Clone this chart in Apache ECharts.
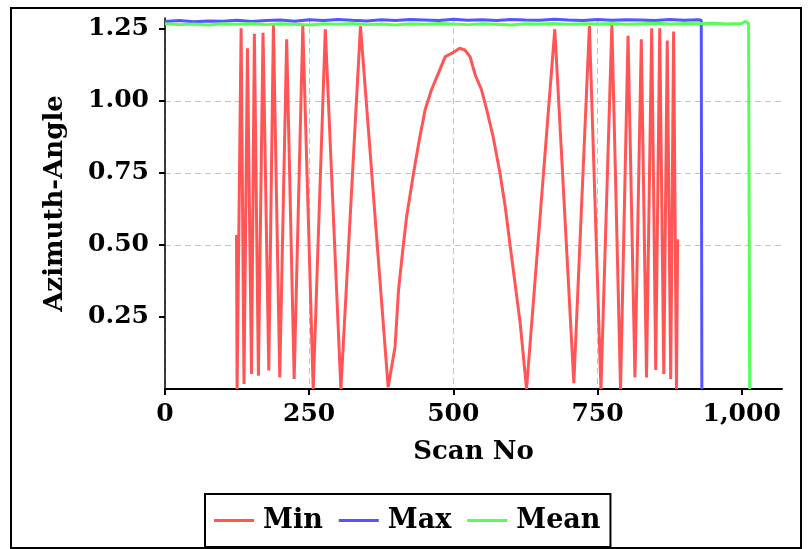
<!DOCTYPE html>
<html>
<head>
<meta charset="utf-8">
<script src="https://cdn.jsdelivr.net/npm/echarts@6/dist/echarts.min.js"></script>
<style>
  html, body { margin: 0; padding: 0; background: #fff; }
  #frame {
    position: absolute; left: 10px; top: 7px;
    width: 788px; height: 538px;
    border: 2px solid #000;
  }
  #main { position: absolute; left: 0; top: 0; width: 812px; height: 549px; }
</style>
</head>
<body>
<div id="frame"></div>
<div id="main"></div>
<script>
// Min series (red)
const minScan = [124, 125, 132, 137, 143, 150, 155, 162, 170, 180,
  188, 199, 211, 224, 239, 257, 278, 305, 339, 387,
  399, 405, 413, 419, 431, 441, 451, 462, 474, 486,
  497, 505, 511, 520, 529, 538, 549, 558, 569, 581,
  590, 598, 607, 616, 627, 676, 709, 736, 756, 775,
  790, 803, 815, 826, 835, 844, 851, 858, 865, 871,
  877, 882, 887, 889];
const minValue = [0.535, 0, 1.252, 0.017, 1.183, 0.052, 1.233, 0.046, 1.237, 0.064,
  1.264, 0.040, 1.214, 0.035, 1.260, 0, 1.249, 0, 1.260, 0.006,
  0.147, 0.344, 0.494, 0.598, 0.749, 0.865, 0.969, 1.038, 1.096, 1.154,
  1.165, 1.175, 1.183, 1.177, 1.154, 1.090, 1.038, 0.969, 0.876, 0.749,
  0.633, 0.506, 0.367, 0.228, 0, 1.249, 0.020, 1.260, 0, 1.264,
  0, 1.226, 0.040, 1.214, 0.040, 1.252, 0.066, 1.252, 0.052, 1.210,
  0.035, 1.241, 0, 0.52];

// Max series (blue)
const maxScan = [0, 25, 50, 75, 100, 125, 150, 175, 200, 225,
  250, 275, 300, 325, 350, 375, 400, 425, 450, 475,
  500, 525, 550, 575, 600, 625, 650, 675, 700, 725,
  750, 775, 800, 825, 850, 875, 900, 925, 930, 931];
const maxValue = [1.276, 1.279, 1.275, 1.278, 1.277, 1.280, 1.276, 1.279, 1.281, 1.277,
  1.282, 1.279, 1.283, 1.280, 1.278, 1.282, 1.279, 1.283, 1.281, 1.279,
  1.284, 1.280, 1.282, 1.279, 1.283, 1.281, 1.280, 1.284, 1.281, 1.279,
  1.283, 1.280, 1.282, 1.281, 1.279, 1.283, 1.280, 1.282, 1.280, 0];

// Mean series (green)
const meanScan = [0, 25, 50, 75, 100, 125, 150, 175, 200, 225,
  250, 275, 300, 325, 350, 375, 400, 425, 450, 475,
  500, 525, 550, 575, 600, 625, 650, 675, 700, 725,
  750, 775, 800, 825, 850, 875, 900, 925, 950, 975,
  1000, 1006, 1012, 1013, 1014];
const meanValue = [1.268, 1.265, 1.267, 1.264, 1.268, 1.266, 1.269, 1.265, 1.268, 1.266,
  1.264, 1.268, 1.266, 1.269, 1.265, 1.267, 1.264, 1.268, 1.266, 1.269,
  1.267, 1.265, 1.268, 1.266, 1.264, 1.268, 1.267, 1.269, 1.266, 1.268,
  1.267, 1.269, 1.266, 1.268, 1.270, 1.267, 1.269, 1.268, 1.270, 1.267,
  1.269, 1.276, 1.270, 1.272, 0];

const xTicks = [0, 250, 500, 750, 1000];
const yTicks = [0.25, 0.5, 0.75, 1.0, 1.25];

function zip(xs, ys) {
  return xs.map((x, i) => [x, ys[i]]);
}

const FONT = "DejaVu Serif";
const chart = echarts.init(document.getElementById("main"), null, { renderer: "canvas" });

const option = {
  animation: false,
  grid: { left: 165, right: 30, top: 18, bottom: 160 },
  xAxis: {
    type: "value",
    min: 0,
    max: 1070,
    interval: 250,
    name: "Scan No",
    nameLocation: "middle",
    nameGap: 50,
    nameTextStyle: { fontFamily: FONT, fontWeight: "bold", fontSize: 26, color: "#000" },
    axisLine: { show: true, onZero: false, lineStyle: { color: "#000", width: 2 } },
    axisTick: { show: true, length: 6, lineStyle: { color: "#000", width: 2 }, customValues: xTicks },
    axisLabel: {
      margin: 13,
      fontFamily: FONT, fontWeight: "bold", fontSize: 25, color: "#000",
      customValues: xTicks,
      formatter: (v) => v.toLocaleString("en-US")
    },
    splitLine: { show: true, showMaxLine: false, lineStyle: { color: "#c4c4c4", type: [6, 4], width: 1 } }
  },
  yAxis: {
    type: "value",
    min: 0,
    max: 1.288,
    interval: 0.25,
    name: "Azimuth-Angle",
    nameLocation: "middle",
    nameRotate: 90,
    nameGap: 97,
    nameTextStyle: { fontFamily: FONT, fontWeight: "bold", fontSize: 26, color: "#000" },
    axisLine: { show: true, lineStyle: { color: "#000", width: 1.5 } },
    axisTick: { show: true, length: 6, lineStyle: { color: "#000", width: 2 }, customValues: yTicks },
    axisLabel: {
      margin: 16,
      fontFamily: FONT, fontWeight: "bold", fontSize: 25, color: "#000",
      customValues: yTicks,
      formatter: (v) => v.toFixed(2)
    },
    splitLine: { show: true, showMinLine: false, showMaxLine: false, lineStyle: { color: "#c4c4c4", type: [6, 4], width: 1 } }
  },
  legend: {
    left: 205,
    top: 494,
    orient: "horizontal",
    padding: [13, 10, 13, 9],
    itemGap: 16,
    itemWidth: 40,
    itemHeight: 3,
    borderColor: "#000",
    borderWidth: 2,
    icon: "rect",
    textStyle: { fontFamily: FONT, fontWeight: "bold", fontSize: 27, color: "#000", padding: [0, 0, 0, 4] },
    data: ["Min", "Max", "Mean"]
  },
  series: [
    {
      name: "Min", type: "line", showSymbol: false, symbol: "none",
      color: "#ff5555", lineStyle: { width: 3, color: "#ff5555" },
      data: zip(minScan, minValue)
    },
    {
      name: "Max", type: "line", showSymbol: false, symbol: "none",
      color: "#5555ff", lineStyle: { width: 3, color: "#5555ff" },
      data: zip(maxScan, maxValue)
    },
    {
      name: "Mean", type: "line", showSymbol: false, symbol: "none",
      color: "#55ff55", lineStyle: { width: 3, color: "#55ff55" },
      data: zip(meanScan, meanValue)
    }
  ]
};

chart.setOption(option);
</script>
</body>
</html>
